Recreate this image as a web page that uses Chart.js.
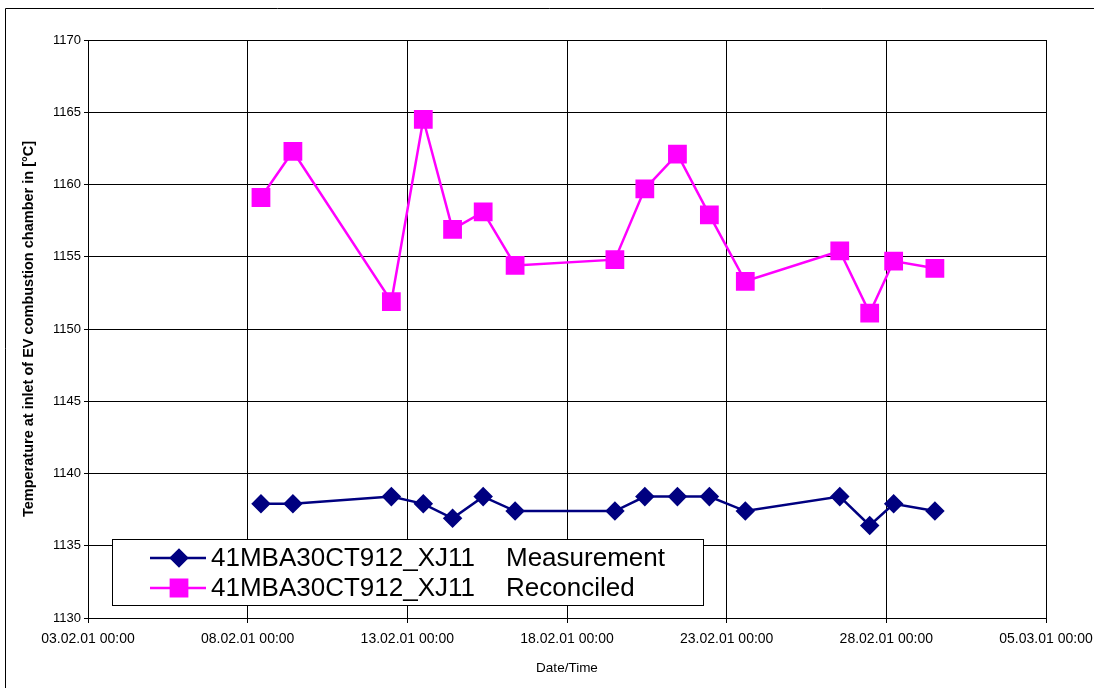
<!DOCTYPE html>
<html><head><meta charset="utf-8">
<script src="https://cdn.jsdelivr.net/npm/chart.js@4.4.0/dist/chart.umd.min.js"></script>
<style>html,body{margin:0;padding:0;background:#fff;overflow:hidden}</style>
</head><body>
<canvas id="c" width="1094" height="688" style="display:block;width:1094px;height:688px"></canvas>
<script>
// ---- data ----
const startDate = "03.02.01 00:00";
const endDate   = "05.03.01 00:00";
const timestamps = [
  "08.02.01 10:00","09.02.01 10:00","12.02.01 12:00","13.02.01 12:00",
  "14.02.01 10:00","15.02.01 09:00","16.02.01 09:00","19.02.01 12:00",
  "20.02.01 10:30","21.02.01 11:00","22.02.01 11:00","23.02.01 14:00",
  "26.02.01 13:00","27.02.01 11:30","28.02.01 05:30","01.03.01 12:30"
];
const measurement = [1137.9,1137.9,1138.4,1137.9,1136.9,1138.4,1137.4,1137.4,
                     1138.4,1138.4,1138.4,1137.4,1138.4,1136.4,1137.9,1137.4];
const reconciled  = [1159.1,1162.3,1151.9,1164.5,1156.9,1158.1,1154.4,1154.8,
                     1159.7,1162.1,1157.9,1153.3,1155.4,1151.1,1154.7,1154.2];
const seriesNames = ["41MBA30CT912_XJ11   Measurement","41MBA30CT912_XJ11   Reconciled"];
const yMin = 1130, yMax = 1170, yStep = 5;
const xStepDays = 5;
const xTitle = "Date/Time";
const yTitle = "Temperature at inlet of EV combustion chamber in [°C]";

// ---- helpers ----
const DAY = 86400000;
function parseDT(s){
  const [d,t] = s.split(' ');
  const [dd,mm,yy] = d.split('.').map(Number);
  const [hh,mi] = t.split(':').map(Number);
  return Date.UTC(2000+yy, mm-1, dd, hh, mi);
}
const t0 = parseDT(startDate);
const toDays = s => (parseDT(s) - t0) / DAY;
function fmt(days){
  const d = new Date(t0 + Math.round(days*DAY));
  const p = n => String(n).padStart(2,'0');
  return p(d.getUTCDate())+'.'+p(d.getUTCMonth()+1)+'.'+p(d.getUTCFullYear()%100)+' '+p(d.getUTCHours())+':'+p(d.getUTCMinutes());
}
const xs = timestamps.map(toDays);
const FONT = "'Liberation Sans', Arial, sans-serif";

const frame = {
  id:'frame',
  beforeDraw(chart){
    const ctx = chart.ctx;
    ctx.save();
    ctx.fillStyle = '#fff';
    ctx.fillRect(0,0,chart.width,chart.height);
    ctx.strokeStyle = '#000'; ctx.lineWidth = 1;
    ctx.beginPath();
    ctx.moveTo(5.5, chart.height); ctx.lineTo(5.5, 8.5); ctx.lineTo(chart.width, 8.5);
    ctx.stroke();
    ctx.restore();
  }
};

const boxLegend = {
  id:'boxLegend',
  afterDraw(chart){
    const ctx = chart.ctx;
    ctx.save();
    ctx.fillStyle = '#fff';
    ctx.fillRect(112, 539, 591, 66);
    ctx.strokeStyle = '#000'; ctx.lineWidth = 1;
    ctx.strokeRect(112.5, 539.5, 591, 66);
    chart.data.datasets.forEach((ds,i) => {
      const y = 558 + i*30;
      ctx.strokeStyle = ds.borderColor; ctx.lineWidth = ds.borderWidth;
      ctx.beginPath(); ctx.moveTo(150, y); ctx.lineTo(206, y); ctx.stroke();
      ctx.fillStyle = ds.pointBackgroundColor; ctx.strokeStyle = ds.borderColor;
      Chart.helpers.drawPoint(ctx, {pointStyle: ds.pointStyle, radius: ds.pointRadius, rotation:0, borderWidth:1}, 179, y);
      ctx.fillStyle = '#000';
      ctx.font = "26px " + FONT;
      ctx.textBaseline = 'middle'; ctx.textAlign = 'left';
      const parts = ds.label.split(/\s{2,}/);
      ctx.fillText(parts[0], 211, y+1);
      if (parts[1]) ctx.fillText(parts[1], 506, y+1);
    });
    ctx.restore();
  }
};

new Chart(document.getElementById('c'), {
  type: 'line',
  data: {
    datasets: [
      { label: seriesNames[0], data: xs.map((x,i)=>({x, y: measurement[i]})),
        borderColor:'#000080', backgroundColor:'#000080', pointBackgroundColor:'#000080',
        borderWidth:2.5, pointStyle:'rectRot', pointRadius:8, pointHoverRadius:8, tension:0 },
      { label: seriesNames[1], data: xs.map((x,i)=>({x, y: reconciled[i]})),
        borderColor:'#FF00FF', backgroundColor:'#FF00FF', pointBackgroundColor:'#FF00FF',
        borderWidth:2.5, pointStyle:'rect', pointRadius:11.5, pointHoverRadius:11.5, tension:0 }
    ]
  },
  options: {
    responsive:false, animation:false, devicePixelRatio:1,
    layout:{ padding:{ left:20, top:40, right:48, bottom:12 } },
    plugins:{ legend:{display:false}, tooltip:{enabled:false} },
    scales:{
      x:{
        type:'linear', min:0, max:toDays(endDate),
        afterFit(s){ s.height = 58; s.paddingLeft = 0; s.paddingRight = 0; },
        afterBuildTicks(s){ const t=[]; for(let v=0; v<=toDays(endDate)+1e-9; v+=xStepDays) t.push({value:v}); s.ticks = t; },
        ticks:{ callback:v=>fmt(v), maxRotation:0, autoSkip:false, color:'#000', padding:8,
                font:{family:FONT, size:14} },
        grid:{ color:'#000', lineWidth:1, tickLength:5, drawTicks:true },
        border:{ color:'#000', width:1 },
        title:{ display:true, text:xTitle, color:'#000', font:{family:FONT, size:13.5}, padding:0 }
      },
      y:{
        min:yMin, max:yMax,
        afterFit(s){ s.width = 68; s.paddingTop = 0; s.paddingBottom = 0; },
        ticks:{ stepSize:yStep, color:'#000', padding:3, font:{family:FONT, size:13},
                callback:v=>String(v) },
        grid:{ color:'#000', lineWidth:1, tickLength:4 },
        border:{ color:'#000', width:1 },
        title:{ display:true, text:yTitle, color:'#000', font:{family:FONT, size:14.5, weight:'bold'}, padding:0 }
      }
    }
  },
  plugins:[frame, boxLegend]
});
</script>
</body></html>
